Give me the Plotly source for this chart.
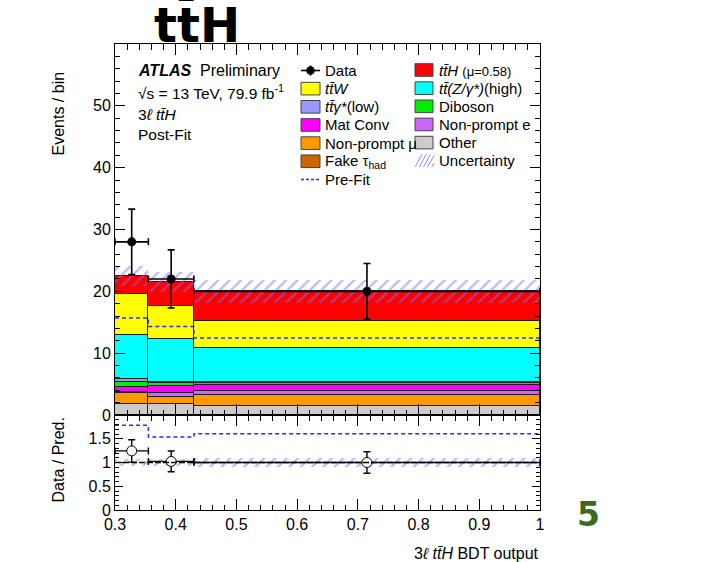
import numpy as np
import plotly.graph_objects as go

# ---- binning of the 3l ttH BDT output ----
bin_edges = [0.3, 0.355, 0.43, 1.0]

# ---- post-fit yields per bin (stack order, bottom -> top) ----
fake_tau = [0.05, 0.05, 0.05]
other = [1.75, 1.68, 1.41]
nonprompt_mu = [1.80, 1.18, 1.73]
nonprompt_e = [0.05, 0.70, 0.74]
mat_conv = [0.93, 1.08, 0.87]
diboson = [0.76, 0.54, 0.43]
ttgamma_low = [0.53, 0.11, 0.07]
ttz_high = [7.03, 6.91, 5.50]
ttw = [6.70, 5.35, 4.46]
tth = [2.90, 3.90, 4.74]

total_unc = [1.6, 1.6, 1.9]
prefit_total = [15.7, 14.3, 12.46]

data = [28, 22, 20]
data_err = [5.3, 4.7, 4.5]

# ---- y-axis tick labels ----
main_yticks = [0, 10, 20, 30, 40, 50]
ratio_yticks = [0, 0.5, 1, 1.5]
ratio_yticktext = ["0", "0.5", "1", "1.5"]

FONT = "Liberation Sans, Arial, Helvetica, sans-serif"
OUTLINE = "#1e1e1e"

samples = [
    (fake_tau, "#cc6600"),
    (other, "#cccccc"),
    (nonprompt_mu, "#ff9900"),
    (nonprompt_e, "#cc66ff"),
    (mat_conv, "#ff00ff"),
    (diboson, "#00ee00"),
    (ttgamma_low, "#9999ff"),
    (ttz_high, "#00ffff"),
    (ttw, "#ffff00"),
    (tth, "#ff0000"),
]

edges = np.array(bin_edges)
centers = 0.5 * (edges[:-1] + edges[1:])
widths = np.diff(edges)

fig = go.Figure()

# stacked post-fit backgrounds + signal
bottom = np.zeros(len(centers))
for vals, col in samples:
    v = np.array(vals, dtype=float)
    fig.add_trace(go.Bar(
        x=centers, y=v, base=bottom.copy(), width=widths,
        marker=dict(color=col, line=dict(color=OUTLINE, width=1)),
        xaxis="x", yaxis="y", showlegend=False, hoverinfo="skip"))
    bottom = bottom + v
total = bottom

unc = np.array(total_unc)
hatch = dict(shape="/", fgcolor="#7373ff", bgcolor="rgba(0,0,0,0)",
             size=8, solidity=0.28)

# uncertainty band on the total prediction
fig.add_trace(go.Bar(
    x=centers, y=2 * unc, base=total - unc, width=widths,
    marker=dict(color="rgba(0,0,0,0)", line=dict(width=0), pattern=hatch),
    xaxis="x", yaxis="y", showlegend=False, hoverinfo="skip"))

# pre-fit total as a dashed step line
prefit = np.array(prefit_total)
fig.add_trace(go.Scatter(
    x=edges, y=np.append(prefit, prefit[-1]), mode="lines",
    line=dict(shape="hv", color="#2b2bff", width=1.5, dash="4px,3px"),
    xaxis="x", yaxis="y", showlegend=False, hoverinfo="skip"))

# data points
d = np.array(data, dtype=float)
derr = np.array(data_err)
fig.add_trace(go.Scatter(
    x=centers, y=d, mode="markers",
    marker=dict(color="black", size=9),
    error_y=dict(type="data", array=derr, color="black", thickness=1.6, width=3.5),
    error_x=dict(type="data", array=widths / 2, color="black", thickness=1.6, width=3.5),
    xaxis="x", yaxis="y", showlegend=False, hoverinfo="skip"))

# ---- ratio panel ----
ratio = d / total
ratio_err = derr / total
band = unc / total
prefit_ratio = d / prefit

fig.add_trace(go.Bar(
    x=centers, y=2 * band, base=1 - band, width=widths,
    marker=dict(color="rgba(0,0,0,0)", line=dict(width=0), pattern=hatch),
    xaxis="x2", yaxis="y2", showlegend=False, hoverinfo="skip"))

fig.add_trace(go.Scatter(
    x=edges, y=np.append(prefit_ratio, prefit_ratio[-1]), mode="lines",
    line=dict(shape="hv", color="#2b2bff", width=1.5, dash="4px,3px"),
    xaxis="x2", yaxis="y2", showlegend=False, hoverinfo="skip"))

fig.add_shape(type="line", xref="x2", yref="y2", x0=edges[0], x1=edges[-1],
              y0=1, y1=1, line=dict(color="black", width=1.3, dash="6px,2px"))

fig.add_trace(go.Scatter(
    x=centers, y=ratio, mode="markers",
    marker=dict(color="white", size=10, line=dict(color="black", width=1)),
    error_y=dict(type="data", array=ratio_err, color="black", thickness=1.4, width=3.5),
    error_x=dict(type="data", array=widths / 2, color="black", thickness=1.4, width=3.5),
    xaxis="x2", yaxis="y2", showlegend=False, hoverinfo="skip"))

# ---- axes ----
split = 95 / 466
common = dict(showline=True, linecolor="black", linewidth=1, mirror="ticks",
              ticks="inside", tickcolor="black", showgrid=False, zeroline=False,
              tickfont=dict(family=FONT, size=16, color="black"))

fig.update_layout(
    xaxis=dict(range=[0.3, 1.0], dtick=0.1, tick0=0.3, ticklen=11,
               minor=dict(dtick=0.02, tick0=0.3, ticklen=5.5, ticks="inside",
                          tickcolor="black", showgrid=False),
               showticklabels=False, anchor="y", domain=[0, 1], **common),
    yaxis=dict(range=[0, 60], tickvals=main_yticks, ticklen=10,
               minor=dict(dtick=2, ticklen=5, ticks="inside",
                          tickcolor="black", showgrid=False),
               domain=[split, 1], anchor="x", **common),
    xaxis2=dict(range=[0.3, 1.0], dtick=0.1, tick0=0.3, ticklen=11,
                minor=dict(dtick=0.02, tick0=0.3, ticklen=5.5, ticks="inside",
                           tickcolor="black", showgrid=False),
                anchor="y2", matches="x", domain=[0, 1], **common),
    yaxis2=dict(range=[0, 2], tickvals=ratio_yticks, ticktext=ratio_yticktext,
                ticklen=8, minor=dict(dtick=0.1, ticklen=4, ticks="inside",
                                      tickcolor="black", showgrid=False),
                domain=[0, split], anchor="x2", **common),
    barmode="overlay", bargap=0,
    width=717, height=562,
    margin=dict(l=115, r=177, t=44, b=52),
    paper_bgcolor="white", plot_bgcolor="white",
    showlegend=False,
)

# ---- text and legend (placed in pixel space of the page) ----
L, R, T, B = 115.0, 540.0, 44.0, 510.0


def px(xp):
    return (xp - L) / (R - L)


def py(yp):
    return (B - yp) / (B - T)


annots = []
shapes = []


def text(xp, yp, s, size=15, xanchor="left", yanchor="middle", family=FONT,
         color="black", angle=0):
    annots.append(dict(x=px(xp), y=py(yp), xref="paper", yref="paper", text=s,
                       showarrow=False, xanchor=xanchor, yanchor=yanchor,
                       textangle=angle,
                       font=dict(family=family, size=size, color=color)))


# big process title above the frame
text(196.5, 24, "<b>tt\u0304H</b>", size=48, xanchor="center",
     family="DejaVu Sans, sans-serif")

# page number
text(588, 514, "<b>5</b>", size=33, xanchor="center",
     family="DejaVu Sans, sans-serif", color="#3a6a1f")

# axis titles
text(57.5, 70, "Events / bin", size=16, xanchor="center", yanchor="top", angle=-90)
text(57.5, 460, "Data / Pred.", size=16, xanchor="center", yanchor="middle", angle=-90)
text(541, 553, "3<i>\u2113 tt\u0304H</i> BDT output", size=16, xanchor="right")

# ATLAS label
text(136, 70.5, "<b><i>ATLAS</i></b>  Preliminary", size=16)
text(136, 92, "\u221as = 13 TeV, 79.9 fb<sup>-1</sup>", size=15.5)
text(136, 114, "3<i>\u2113 tt\u0304H</i>", size=15.5)
text(136, 135, "Post-Fit", size=15.5)

# legend
row0, drow = 70.5, 18.15
lx0, lx1, ltx = 301, 320, 323
rx0, rx1, rtx = 415, 433, 437
bh = 6.3

left_col = [
    ("Data", None),
    ("<i>tt\u0304W</i>", "#ffff00"),
    ("<i>tt\u0304\u03b3*</i>(low)", "#9999ff"),
    ("Mat Conv", "#ff00ff"),
    ("Non-prompt \u03bc", "#ff9900"),
    ("Fake \u03c4<sub>had</sub>", "#cc6600"),
    ("Pre-Fit", "prefit"),
]
right_col = [
    ("<i>tt\u0304H</i> <span style='font-size:13px'>(\u03bc=0.58)</span>", "#ff0000"),
    ("<i>tt\u0304(Z/\u03b3*)</i>(high)", "#00ffff"),
    ("Diboson", "#00ee00"),
    ("Non-prompt e", "#cc66ff"),
    ("Other", "#cccccc"),
    ("Uncertainty", "hatch"),
]


def box(x0, x1, yc, color):
    shapes.append(dict(type="rect", xref="paper", yref="paper",
                       x0=px(x0), x1=px(x1), y0=py(yc + bh), y1=py(yc - bh),
                       fillcolor=color, line=dict(color="#444444", width=1)))


def seg(x0, y0, x1, y1, color, width=1, dash="solid"):
    shapes.append(dict(type="line", xref="paper", yref="paper",
                       x0=px(x0), x1=px(x1), y0=py(y0), y1=py(y1),
                       line=dict(color=color, width=width, dash=dash)))


for i, (lab, kind) in enumerate(left_col):
    yc = row0 + i * drow
    if kind is None:
        seg(lx0, yc, lx1, yc, "black", 1.6)
        seg((lx0 + lx1) / 2, yc - 5, (lx0 + lx1) / 2, yc + 5, "black", 1.6)
        shapes.append(dict(type="circle", xref="paper", yref="paper",
                           x0=px((lx0 + lx1) / 2 - 4.3), x1=px((lx0 + lx1) / 2 + 4.3),
                           y0=py(yc + 4.3), y1=py(yc - 4.3),
                           fillcolor="black", line=dict(color="black", width=0)))
    elif kind == "prefit":
        seg(lx0, yc, lx1, yc, "#2b2bff", 1.5, "3px,2px")
    else:
        box(lx0, lx1, yc, kind)
    text(ltx, yc, lab, size=15)

for i, (lab, kind) in enumerate(right_col):
    yc = row0 - 0.5 + i * drow
    if kind == "hatch":
        for k in range(5):
            xs = rx0 + k * 4.2
            seg(xs, yc + bh, min(xs + 7, rx1 + 1), yc + bh - min(7, rx1 + 1 - xs) * 12.6 / 7,
                "#8a8aff", 1)
    else:
        box(rx0, rx1, yc, kind)
    text(rtx, yc, lab, size=15)

fig.update_layout(annotations=annots, shapes=list(fig.layout.shapes) + shapes)

fig.write_html("out.html")
